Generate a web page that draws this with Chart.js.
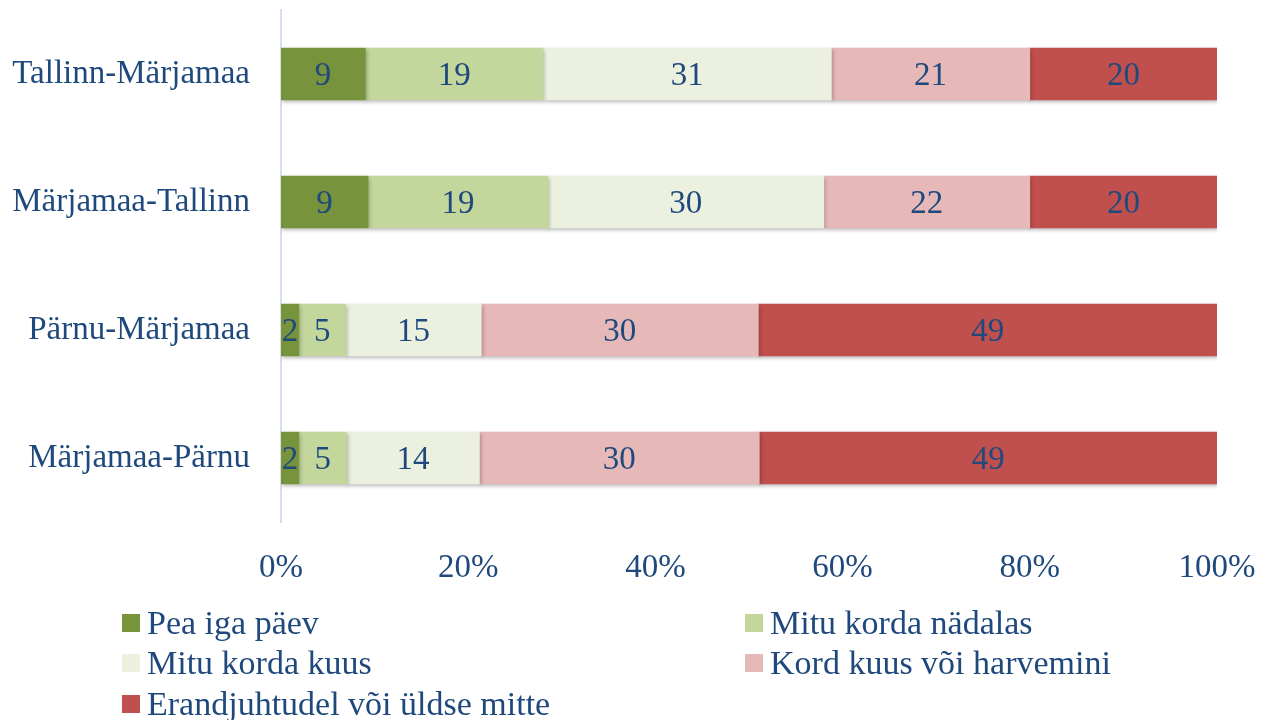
<!DOCTYPE html>
<html>
<head>
<meta charset="utf-8">
<script src="https://cdn.jsdelivr.net/npm/chart.js@4/dist/chart.umd.min.js"></script>
<style>
  body { margin: 0; background: #fff; }
</style>
</head>
<body>
<canvas id="myChart" width="1272" height="720"></canvas>
<script>
// marsruudid
const suunad = ['Tallinn-Märjamaa', 'Märjamaa-Tallinn', 'Pärnu-Märjamaa', 'Märjamaa-Pärnu'];

// osakaalud (%), loetud pildilt
const peaIgaPaev = [9.0, 9.3, 1.9, 1.9];
const mituNadalas = [19.0, 19.2, 5.0, 5.1];
const mituKuus = [30.8, 29.5, 14.5, 14.2];
const kordKuus = [21.2, 22.0, 29.6, 29.9];
const erandjuhtudel = [20.0, 20.0, 49.0, 48.9];

const xTicks = [0, 20, 40, 60, 80, 100];

const tekst = '#1F497D';
const pere = '"Liberation Serif", "DejaVu Serif", serif';
const font = { family: pere, size: 33 };

// varjud tulpade all
const varjuPlugin = {
  id: 'vari',
  beforeDatasetsDraw(chart) {
    const ctx = chart.ctx;
    ctx.save();
    ctx.shadowColor = 'rgba(0,0,0,0.28)';
    ctx.shadowOffsetY = 2;
    ctx.shadowOffsetX = 1;
    ctx.shadowBlur = 4;
  },
  afterDatasetsDraw(chart) {
    chart.ctx.restore();
  }
};

// väärtused tulpade sees
const siltPlugin = {
  id: 'sildid',
  afterDatasetsDraw(chart) {
    const ctx = chart.ctx;
    ctx.save();
    ctx.font = '33px ' + pere;
    ctx.fillStyle = tekst;
    ctx.textAlign = 'center';
    ctx.textBaseline = 'middle';
    chart.data.datasets.forEach((ds, i) => {
      chart.getDatasetMeta(i).data.forEach((bar, j) => {
        const p = bar.getProps(['x', 'y', 'base'], true);
        ctx.fillText(Math.round(ds.data[j]), (p.x + p.base) / 2, p.y + 2);
      });
    });
    ctx.restore();
  }
};

// legend kahes veerus
const legendPlugin = {
  id: 'legend2',
  afterDraw(chart) {
    const ctx = chart.ctx;
    const cols = [122, 745];
    const rows = [623, 663, 704];
    ctx.save();
    ctx.font = '34px ' + pere;
    ctx.textBaseline = 'middle';
    ctx.textAlign = 'left';
    chart.data.datasets.forEach((ds, i) => {
      const x = cols[i % 2];
      const y = rows[Math.floor(i / 2)];
      ctx.fillStyle = ds.backgroundColor;
      ctx.fillRect(x, y - 9, 18, 18);
      ctx.fillStyle = tekst;
      ctx.fillText(ds.label, x + 25, y + 2);
    });
    ctx.restore();
  }
};

const ctx = document.getElementById('myChart').getContext('2d');

const chart = new Chart(ctx, {
  type: 'bar',
  data: {
    labels: suunad,
    datasets: [{
      label: 'Pea iga päev',
      data: peaIgaPaev,
      backgroundColor: '#77933C'
    }, {
      label: 'Mitu korda nädalas',
      data: mituNadalas,
      backgroundColor: '#C3D69B'
    }, {
      label: 'Mitu korda kuus',
      data: mituKuus,
      backgroundColor: '#EBF1DE'
    }, {
      label: 'Kord kuus või harvemini',
      data: kordKuus,
      backgroundColor: '#E6B9B8'
    }, {
      label: 'Erandjuhtudel või üldse mitte',
      data: erandjuhtudel,
      backgroundColor: '#C0504D'
    }]
  },
  options: {
    indexAxis: 'y',
    responsive: false,
    animation: false,
    barThickness: 52,
    layout: { padding: { left: 0, right: 55, top: 10, bottom: 128 } },
    plugins: {
      legend: { display: false },
      tooltip: { enabled: false }
    },
    scales: {
      x: {
        stacked: true,
        min: 0,
        max: 100,
        afterBuildTicks(scale) {
          scale.ticks = xTicks.map(v => ({ value: v }));
        },
        afterFit(scale) {
          scale.height = 70;
          scale.paddingLeft = 0;
          scale.paddingRight = 0;
        },
        grid: { display: false },
        border: { display: false },
        ticks: {
          color: tekst,
          font: font,
          padding: 19,
          maxRotation: 0,
          callback: v => v + '%'
        }
      },
      y: {
        stacked: true,
        afterFit(scale) {
          scale.width = 281;
          scale.paddingTop = 0;
          scale.paddingBottom = 0;
        },
        grid: { display: false },
        border: { display: true, color: '#D5E0EF', width: 2 },
        ticks: {
          color: tekst,
          font: font,
          padding: 23
        }
      }
    }
  },
  plugins: [varjuPlugin, siltPlugin, legendPlugin]
});
</script>
</body>
</html>
